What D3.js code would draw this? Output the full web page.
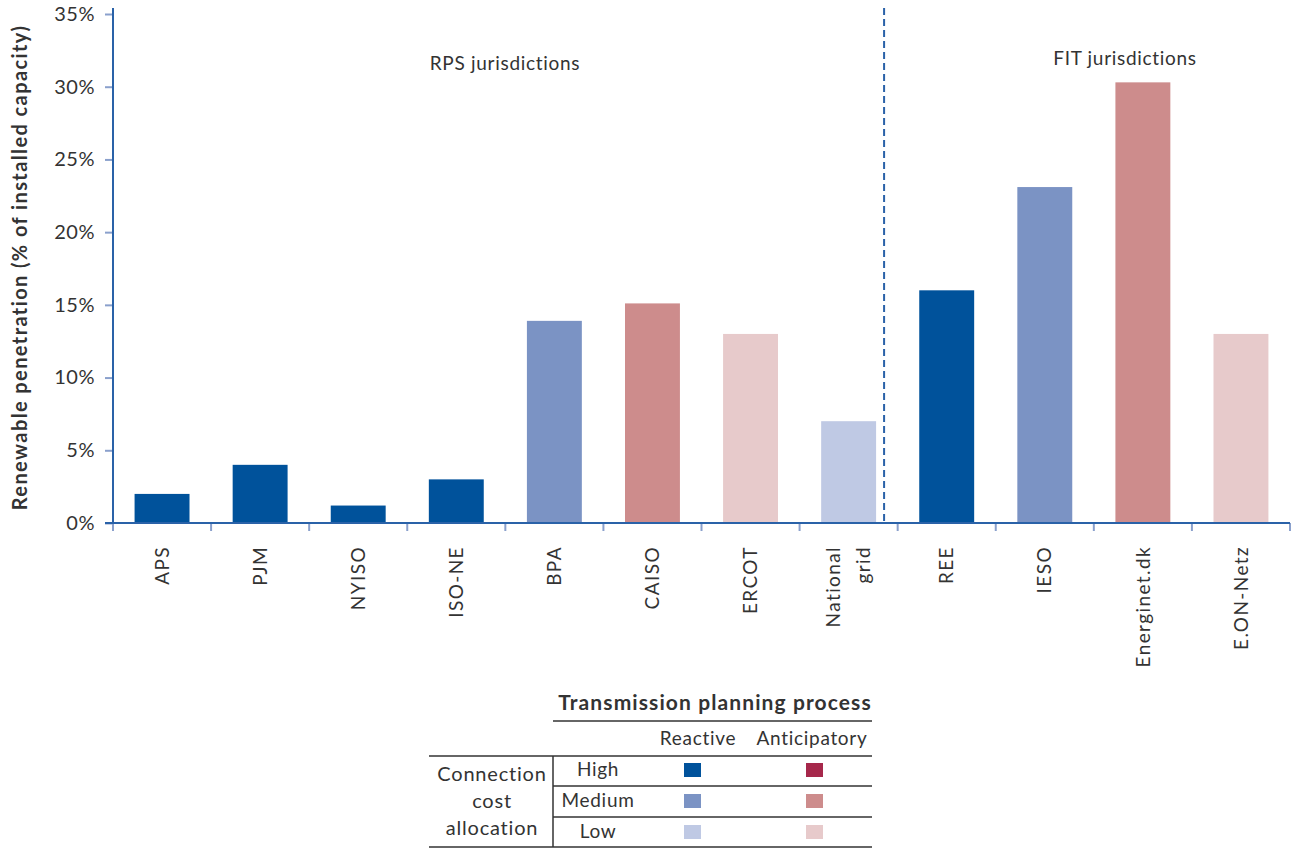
<!DOCTYPE html>
<html>
<head>
<meta charset="utf-8">
<script src="https://cdn.jsdelivr.net/npm/d3@7"></script>
<style>
  body { margin: 0; background: #fff; }
  svg { font-family: Lato, "Open Sans", sans-serif; }
  text { fill: #333; }
</style>
</head>
<body>
<svg id="svg1" width="1294" height="850"></svg>
<script>
// chart data
const jurisdictions = ['APS', 'PJM', 'NYISO', 'ISO-NE', 'BPA', 'CAISO', 'ERCOT', 'National\ngrid',
    'REE', 'IESO', 'Energinet.dk', 'E.ON-Netz'];
const penetration = [2, 4, 1.2, 3, 13.9, 15.1, 13, 7, 16, 23.1, 30.3, 13];
const costAllocation = ['High', 'High', 'High', 'High', 'Medium', 'Medium', 'Low', 'Low',
    'High', 'Medium', 'Medium', 'Low'];
const planning = ['Reactive', 'Reactive', 'Reactive', 'Reactive', 'Reactive', 'Anticipatory', 'Anticipatory', 'Reactive',
    'Reactive', 'Reactive', 'Anticipatory', 'Anticipatory'];
const yTicks = [0, 5, 10, 15, 20, 25, 30, 35];
const levels = ['High', 'Medium', 'Low'];
const processes = ['Reactive', 'Anticipatory'];
const groupLabels = ['RPS jurisdictions', 'FIT jurisdictions'];

const palette = {
    Reactive: { High: '#00529b', Medium: '#7b93c4', Low: '#bfc9e4' },
    Anticipatory: { High: '#a6284b', Medium: '#cd8c8c', Low: '#e7cacb' }
};

const svg = d3.select('#svg1');
const margin = { top: 14, left: 113, right: 4, bottom: 327 };
const width = +svg.attr('width');
const height = +svg.attr('height');
const baseY = height - margin.bottom;
const axisBlue = '#2a62a8';
const tickBlue = '#8aa0cc';
const font = 'Lato, "Open Sans", sans-serif';

const xScale = d3.scaleBand()
    .domain(jurisdictions)
    .range([margin.left, width - margin.right])
    .paddingInner(0.44)
    .paddingOuter(0.22);

const yScale = d3.scaleLinear()
    .domain([0, 35])
    .range([baseY, margin.top]);

// y axis
const yAxis = svg.append('g')
    .attr('transform', `translate(${margin.left},0)`)
    .call(d3.axisLeft(yScale).tickValues(yTicks).tickSize(8).tickPadding(10).tickFormat(d => d + '%'));
yAxis.attr('font-family', font);
yAxis.select('.domain').remove();
yAxis.selectAll('.tick line').attr('stroke', tickBlue).attr('stroke-width', 2);
yAxis.selectAll('.tick text')
    .attr('font-size', 20)
    .attr('letter-spacing', 0.5)
    .attr('fill', '#333');

svg.append('line')
    .attr('x1', margin.left).attr('x2', margin.left)
    .attr('y1', 8).attr('y2', baseY)
    .attr('stroke', axisBlue).attr('stroke-width', 2);

svg.append('text')
    .attr('transform', `translate(27, ${(baseY + 8) / 2 + 2}) rotate(-90)`)
    .attr('text-anchor', 'middle')
    .attr('font-size', 20)
    .attr('letter-spacing', 1.4)
    .attr('font-weight', 'bold')
    .attr('fill', '#222')
    .text('Renewable penetration (% of installed capacity)');

// bars
svg.selectAll('rect.bar')
    .data(jurisdictions)
    .enter().append('rect')
    .attr('class', 'bar')
    .attr('x', d => xScale(d))
    .attr('y', (d, i) => yScale(penetration[i]))
    .attr('width', xScale.bandwidth())
    .attr('height', (d, i) => baseY - yScale(penetration[i]))
    .attr('fill', (d, i) => palette[planning[i]][costAllocation[i]]);

// x axis
const step = xScale.step();
const bounds = d3.range(jurisdictions.length + 1).map(i => margin.left + i * step);
svg.selectAll('line.xtick')
    .data(bounds)
    .enter().append('line')
    .attr('class', 'xtick')
    .attr('x1', d => d).attr('x2', d => d)
    .attr('y1', baseY).attr('y2', baseY + 8)
    .attr('stroke', tickBlue).attr('stroke-width', 2);

svg.append('line')
    .attr('x1', margin.left - 8).attr('x2', width - margin.right)
    .attr('y1', baseY).attr('y2', baseY)
    .attr('stroke', axisBlue).attr('stroke-width', 2);

const xLabels = svg.selectAll('text.xlabel')
    .data(jurisdictions)
    .enter().append('text')
    .attr('class', 'xlabel')
    .attr('text-anchor', 'end')
    .attr('font-size', 19)
    .attr('letter-spacing', 1.4)
    .attr('transform', d => `translate(${xScale(d) + xScale.bandwidth() / 2}, 546) rotate(-90)`);
xLabels.each(function (d) {
    const lines = d.split('\n');
    const t = d3.select(this);
    lines.forEach((ln, j) => {
        t.append('tspan')
            .attr('x', 0)
            .attr('dy', lines.length === 1 ? '0.35em' : (j === 0 ? '-0.45em' : '1.55em'))
            .text(ln);
    });
});

// divider between RPS and FIT
const divX = xScale('National\ngrid') + xScale.bandwidth() + 8;
svg.append('line')
    .attr('x1', divX).attr('x2', divX)
    .attr('y1', 8).attr('y2', baseY)
    .attr('stroke', axisBlue).attr('stroke-width', 2)
    .attr('stroke-dasharray', '7,4');

svg.append('text')
    .attr('x', 505).attr('y', 70)
    .attr('text-anchor', 'middle')
    .attr('font-size', 19)
    .attr('letter-spacing', 0.7)
    .text(groupLabels[0]);
svg.append('text')
    .attr('x', 1125).attr('y', 65)
    .attr('text-anchor', 'middle')
    .attr('font-size', 19)
    .attr('letter-spacing', 0.7)
    .text(groupLabels[1]);

// legend table
const lg = svg.append('g');
const lineColor = '#333';
const hline = (x1, x2, y) => lg.append('line')
    .attr('x1', x1).attr('x2', x2).attr('y1', y).attr('y2', y)
    .attr('stroke', lineColor).attr('stroke-width', 1.5);

lg.append('text')
    .attr('x', 715).attr('y', 710)
    .attr('text-anchor', 'middle')
    .attr('font-size', 21)
    .attr('letter-spacing', 1.1)
    .attr('font-weight', 'bold')
    .attr('fill', '#222')
    .text('Transmission planning process');
hline(553, 872, 721);

const colX = { Reactive: 698, Anticipatory: 812 };
const swatchX = { Reactive: 684, Anticipatory: 806 };
processes.forEach(p => {
    lg.append('text')
        .attr('x', colX[p]).attr('y', 745)
        .attr('text-anchor', 'middle')
        .attr('font-size', 19)
        .attr('letter-spacing', 0.7)
        .text(p);
});
hline(429, 872, 756);

const rowY = [770, 801, 832];
levels.forEach((lv, i) => {
    lg.append('text')
        .attr('x', 598).attr('y', rowY[i] + 6)
        .attr('text-anchor', 'middle')
        .attr('font-size', 19)
        .attr('letter-spacing', 0.7)
        .text(lv);
    processes.forEach(p => {
        lg.append('rect')
            .attr('x', swatchX[p]).attr('y', rowY[i] - 7)
            .attr('width', 17).attr('height', 14)
            .attr('fill', palette[p][lv]);
    });
});
hline(553, 872, 786);
hline(553, 872, 817);
hline(429, 872, 847);
lg.append('line')
    .attr('x1', 553).attr('x2', 553).attr('y1', 756).attr('y2', 847)
    .attr('stroke', lineColor).attr('stroke-width', 1.5);

['Connection', 'cost', 'allocation'].forEach((w, i) => {
    lg.append('text')
        .attr('x', 492).attr('y', 781 + i * 27)
        .attr('text-anchor', 'middle')
        .attr('font-size', 20)
        .attr('letter-spacing', 0.8)
        .text(w);
});
</script>
</body>
</html>
